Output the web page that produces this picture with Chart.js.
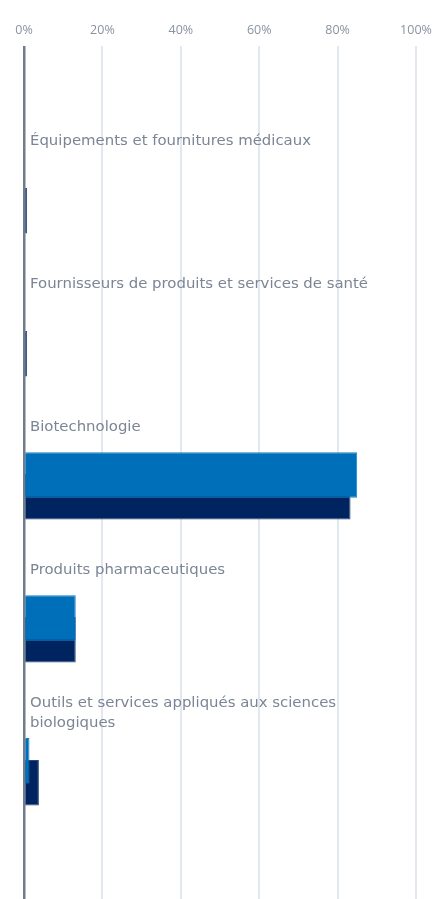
<!DOCTYPE html>
<html lang="fr">
<head>
<meta charset="utf-8">
<title>Répartition sectorielle</title>
<script src="https://cdn.jsdelivr.net/npm/chart.js@4.4.0/dist/chart.umd.min.js"></script>
<style>
	html, body { margin: 0; padding: 0; background: #fff; }
	#wrapper-sector { position: relative; width: 434px; height: 899px; }
</style>
</head>
<body>
<div id="wrapper-sector"><canvas id="sector-chart"></canvas></div>
<script>
// Chart data
const categories = [
	"Équipements et fournitures médicaux",
	"Fournisseurs de produits et services de santé",
	"Biotechnologie",
	"Produits pharmaceutiques",
	["Outils et services appliqués aux sciences", "biologiques"],
];
const seriesNames = ["Fonds", "Indice de référence"];
const fundValues = [0, 0, 85, 13.2, 1.4];
const benchmarkValues = [0.8, 0.8, 83.3, 13.2, 3.8];
const xTicks = [0, 20, 40, 60, 80, 100];

const toPoints = (values) => values.map((v, i) => ({ x: v, y: i }));

const data = {
	datasets: [
		{
			label: seriesNames[0],
			data: toPoints(fundValues),
			backgroundColor: "#006fb9",
			borderColor: "#1f80c6",
			borderWidth: 1,
		},
		{
			label: seriesNames[1],
			data: toPoints(benchmarkValues),
			backgroundColor: "#00245f",
			borderColor: "#2c4777",
			borderWidth: 1,
		},
	],
};

const options = {
	indexAxis: "y",
	responsive: true,
	maintainAspectRatio: false,
	animation: false,
	layout: {
		padding: { top: 15, left: 24, right: 18, bottom: 0 },
	},
	// bars of both series overlap: blue drawn over the navy one
	categoryPercentage: 0.3045,
	barPercentage: 2.09,
	scales: {
		x: {
			type: "linear",
			position: "top",
			min: 0,
			max: 100,
			border: { display: false },
			grid: {
				drawTicks: true,
				tickLength: 8,
				color: (ctx) => (ctx.tick && ctx.tick.value === 0 ? "#6f7c8c" : "#e1e8f0"),
				lineWidth: (ctx) => (ctx.tick && ctx.tick.value === 0 ? 2.5 : 2),
			},
			afterBuildTicks: (axis) => {
				axis.ticks = xTicks.map((v) => ({ value: v }));
			},
			afterFit: (axis) => {
				axis.paddingLeft = 0;
				axis.paddingRight = 0;
			},
			ticks: {
				padding: 8,
				color: "#8a93a1",
				font: { family: "'Open Sans', sans-serif", size: 12.5 },
				callback: (v) => v + "%",
			},
		},
		y: {
			type: "linear",
			reverse: true,
			offset: false,
			min: -1.02,
			max: 4.89,
			border: { display: false },
			grid: { display: false },
			afterBuildTicks: (axis) => {
				axis.ticks = categories.map((c, i) => ({ value: i }));
			},
			afterFit: (axis) => {
				axis.width = 0;
				axis.paddingTop = 0;
				axis.paddingBottom = 0;
			},
			ticks: {
				mirror: true,
				padding: 6,
				labelOffset: -59,
				crossAlign: "near",
				autoSkip: false,
				color: "#7b8595",
				font: { family: "'DejaVu Sans', sans-serif", size: 14.9, lineHeight: "20px" },
				callback: (v) => categories[v],
			},
		},
	},
	plugins: {
		legend: { display: false },
		tooltip: { enabled: false },
	},
};

let ctx = document.getElementById("sector-chart").getContext("2d");
new Chart(ctx, { type: "bar", data: data, options: options });
</script>
</body>
</html>
